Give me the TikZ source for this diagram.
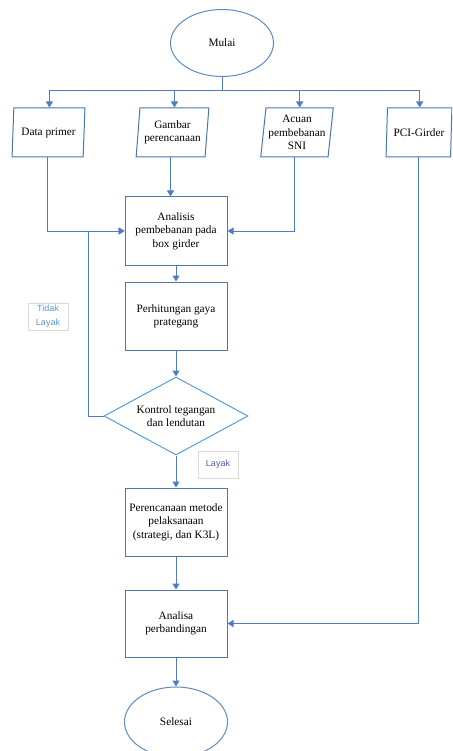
\documentclass[tikz,border=0pt]{standalone}
\usepackage{fontspec}
\setmainfont{Liberation Serif}
\newfontfamily\lblfont{Liberation Sans}
\usetikzlibrary{shapes.geometric,arrows.meta}
\definecolor{conn}{HTML}{4F7CC6}
\definecolor{boxc}{HTML}{4A78AE}
\definecolor{ellc}{HTML}{5C8CC4}
\definecolor{diac}{HTML}{5B9BD5}
\definecolor{lblgray}{HTML}{D9D9D9}
\definecolor{tlc}{HTML}{5F95CF}
\definecolor{lyc}{HTML}{4A5DB0}
\tikzset{
  x=1pt,y=-1pt,
  every node/.style={font=\fontsize{11.3}{13.3}\selectfont, align=center, inner sep=0pt},
  arr/.style={draw=conn, line width=1pt, -{Triangle[width=7pt,length=6pt]}},
  ln/.style={draw=conn, line width=1pt},
  procbox/.style={draw=boxc, line width=1pt, rectangle, minimum width=102pt, minimum height=68pt},
  term/.style={draw=ellc, line width=1pt, ellipse, minimum width=103pt, minimum height=67pt},
  iobox/.style={draw=boxc, line width=1pt, trapezium, trapezium left angle=82, trapezium right angle=98,
                trapezium stretches=true, minimum width=73pt, minimum height=49pt},
  decis/.style={draw=diac, line width=1pt, diamond, aspect=1.846, minimum width=144pt, minimum height=78pt},
  lbl/.style={draw=lblgray, line width=1pt, rectangle, minimum width=40pt, minimum height=27pt,
              font=\lblfont\fontsize{9}{14}\selectfont}
}
\begin{document}
\begin{tikzpicture}
\useasboundingbox (0,0) rectangle (452,751);
\clip (0,0) rectangle (452,751);
\node[term] (mulai) at (222,43) {Mulai};
\node[iobox] (dp) at (48.5,132.5) {Data primer};
\node[iobox] (gp) at (172.5,132.5) {Gambar\\perencanaan};
\node[iobox] (ac) at (297,132.5) {Acuan\\pembebanan\\SNI};
\node[iobox, minimum width=66pt] (pci) at (419,132.5) {PCI-Girder};
\node[procbox] (an) at (176,231) {Analisis\\pembebanan pada\\box girder};
\node[procbox] (ph) at (176,316) {Perhitungan gaya\\prategang};
\node[decis] (kt) at (176,416) {Kontrol tegangan\\dan lendutan};
\node[procbox] (pm) at (176,522) {Perencanaan metode\\pelaksanaan\\(strategi, dan K3L)};
\node[procbox, minimum height=67pt] (ab) at (176,623.5) {Analisa\\perbandingan};
\node[term, minimum height=70pt] (sel) at (176,722) {Selesai};
\node[lbl, text=tlc] (tl) at (48,316.5) {Tidak\\Layak};
\node[lbl, text=lyc] (ly) at (218,464.5) {Layak};
\coordinate (bus) at (222,91);
\coordinate (lp) at (88,416);
\draw[ln] (mulai.south) -- (bus);
\draw[arr] (bus) -| (dp.top side);
\draw[arr] (bus) -| (gp.top side);
\draw[arr] (bus) -| (ac.top side);
\draw[arr] (bus) -| (pci.top side);
\draw[arr] (gp.bottom side) -- (gp.bottom side |- an.north);
\draw[arr] (dp.bottom side) |- (an.west);
\draw[arr] (ac.bottom side) |- (an.east);
\draw[arr] (an) -- (ph);
\draw[arr] (ph) -- (kt);
\draw[arr] (kt.west) -- (lp) |- (an.west);
\draw[arr] (kt) -- (pm);
\draw[arr] (pm) -- (ab);
\draw[arr] (ab) -- (sel);
\draw[arr] (pci.bottom side) |- (ab.east);
\end{tikzpicture}
\end{document}
